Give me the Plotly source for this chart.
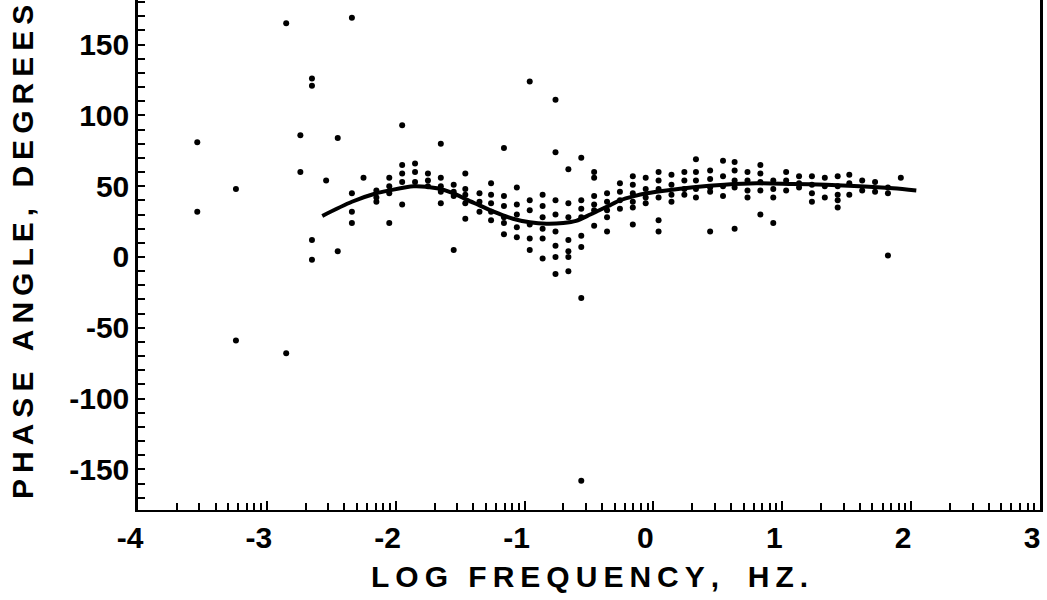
import numpy as np
import plotly.graph_objects as go

# smoothed fit through the phase data
fit_x = [-2.57, -2.34, -2.15, -2.05, -1.86, -1.68, -1.55, -1.45, -1.35, -1.24,
         -1.09, -0.96, -0.83, -0.70, -0.60, -0.49, -0.42, -0.35, -0.26, -0.15,
         -0.05, 0.10, 0.31, 0.55, 0.80, 1.08, 1.34, 1.60, 1.86, 2.04]
fit_y = [29, 39, 45, 47, 50, 48.5, 45, 40.5, 36.5, 32,
         27, 24.5, 23.5, 24, 25.5, 30, 33, 36, 40, 43,
         45, 47, 49.2, 51, 52, 51.5, 51, 50, 48.5, 47]

# isolated points (log frequency, phase angle in degrees)
single_x = [-3.54, -3.54, -3.24, -3.24, -2.85, -2.85, -2.74, -2.74, -2.65, -2.65,
            -2.65, -2.65, -2.54, -2.45, -2.45, -2.34, -2.34, -2.34, -2.34, -2.25]
single_y = [81, 32, 48, -59, 165, -68, 86, 60, 126, 121,
            12, -2, 54, 84, 4, 169, 45, 32, 24, 56]

# dense columns: one log frequency, several phase readings each
col_x = [-2.15, -2.05, -1.95, -1.85, -1.75, -1.65, -1.55, -1.46, -1.35, -1.26,
         -1.16, -1.06, -0.96, -0.86, -0.76, -0.66, -0.56, -0.46, -0.36, -0.26,
         -0.16, -0.06, 0.04, 0.14, 0.24, 0.33, 0.44, 0.54, 0.63, 0.73,
         0.83, 0.93, 1.03, 1.13, 1.23, 1.33, 1.43, 1.52, 1.62, 1.72,
         1.82, 1.92]
col_y = [
    [47, 42, 39],
    [56, 50, 45, 24],
    [93, 65, 59, 53, 37],
    [66, 60, 53],
    [59, 54, 50],
    [80, 56, 50, 46, 38],
    [51, 46, 43, 5],
    [59, 48, 44, 38, 27],
    [45, 39, 32],
    [52, 44, 38, 32, 26],
    [77, 43, 36, 28, 24, 16],
    [49, 37, 30, 21, 14],
    [124, 40, 33, 23, 13, 5],
    [44, 36, 28, 20, 13, -1],
    [111, 74, 40, 30, 18, 8, 0, -12],
    [62, 38, 28, 12, 4, 0, -10],
    [70, 40, 34, 28, 15, 7, -29, -158],
    [60, 56, 43, 37, 33, 22],
    [45, 39, 33, 28, 18],
    [52, 46, 40, 34],
    [57, 51, 45, 39, 35, 23],
    [56, 48, 42, 38],
    [60, 54, 48, 42, 26, 18],
    [58, 51, 44, 39],
    [60, 54, 48, 44],
    [69, 60, 54, 48, 42],
    [61, 55, 49, 46, 18],
    [68, 57, 50, 43],
    [67, 61, 54, 49, 20],
    [60, 54, 47, 42],
    [65, 59, 53, 47, 30],
    [54, 48, 42, 24],
    [60, 54, 47],
    [57, 52, 49],
    [57, 51, 45, 39],
    [56, 50, 42],
    [57, 50, 44, 40, 35],
    [58, 52, 44],
    [54, 47],
    [53, 46],
    [49, 45, 1],
    [56],
]

x_ticks = [-4, -3, -2, -1, 0, 1, 2, 3]
x_labels = ["-4", "-3", "-2", "-1", "0", "1", "2", "3"]
y_ticks = [-150, -100, -50, 0, 50, 100, 150]
y_labels = ["-150", "-100", "-50", "0", "50", "100", "150"]

# flatten the columns
pts_x = list(single_x)
pts_y = list(single_y)
for cx, ys in zip(col_x, col_y):
    pts_x += [cx] * len(ys)
    pts_y += ys

# log-cycle minor ticks inside each decade
minor_x = [d + np.log10(k) for d in range(-4, 3) for k in range(2, 10)]


def spaced(s):
    return "\u2009".join(s)


fig = go.Figure()
fig.add_trace(go.Scatter(x=pts_x, y=pts_y, mode="markers",
                         marker=dict(color="black", size=6, symbol="circle")))
fig.add_trace(go.Scatter(x=fit_x, y=fit_y, mode="lines",
                         line=dict(color="black", width=4, shape="spline", smoothing=0.8)))

tick_font = dict(family="Liberation Sans", size=30, color="black", weight="bold")
title_font = dict(family="Liberation Sans", size=30, color="black", weight="bold")

fig.update_xaxes(range=[-4, 3], showgrid=False, zeroline=False, automargin=False,
                 showline=True, linecolor="black", linewidth=2,
                 ticks="inside", tickvals=x_ticks, ticktext=x_labels,
                 ticklen=9, tickwidth=2, tickcolor="black", tickfont=tick_font,
                 ticklabelshift=-8, ticklabeloverflow="allow",
                 minor=dict(tickmode="array", tickvals=minor_x, ticks="inside",
                            ticklen=7, tickwidth=1.5, tickcolor="black"))
fig.update_yaxes(range=[-178.7, 181.5], showgrid=False, zeroline=False, automargin=False,
                 showline=True, mirror=True, linecolor="black", linewidth=2.5,
                 ticks="inside", tickvals=y_ticks, ticktext=y_labels,
                 ticklen=7, tickwidth=2, tickcolor="black", tickfont=tick_font,
                 minor=dict(dtick=10, ticks="inside", ticklen=7, tickwidth=2,
                            tickcolor="black"))

fig.add_annotation(text=spaced("PHASE") + "\u2009 \u2009" + spaced("ANGLE,") + "\u2009 \u2009" + spaced("DEGREES"),
                   xref="paper", yref="paper", x=-0.128, y=0.505,
                   textangle=-90, showarrow=False, font=title_font,
                   xanchor="center", yanchor="middle")
fig.add_annotation(text=spaced("LOG") + "\u2009 \u2009" + spaced("FREQUENCY,") + "\u2009  \u2009" + spaced("HZ."),
                   xref="paper", yref="paper", x=0.5, y=-0.131,
                   showarrow=False, font=title_font,
                   xanchor="center", yanchor="middle")

fig.update_layout(width=1047, height=600, showlegend=False,
                  margin=dict(l=138, r=7, t=0, b=90),
                  plot_bgcolor="white", paper_bgcolor="white")

# drop the browser's default page margin so the figure sits at the corner
fig.write_html("out.html", config={"displayModeBar": False},
               post_script="document.body.style.margin='0px';")
